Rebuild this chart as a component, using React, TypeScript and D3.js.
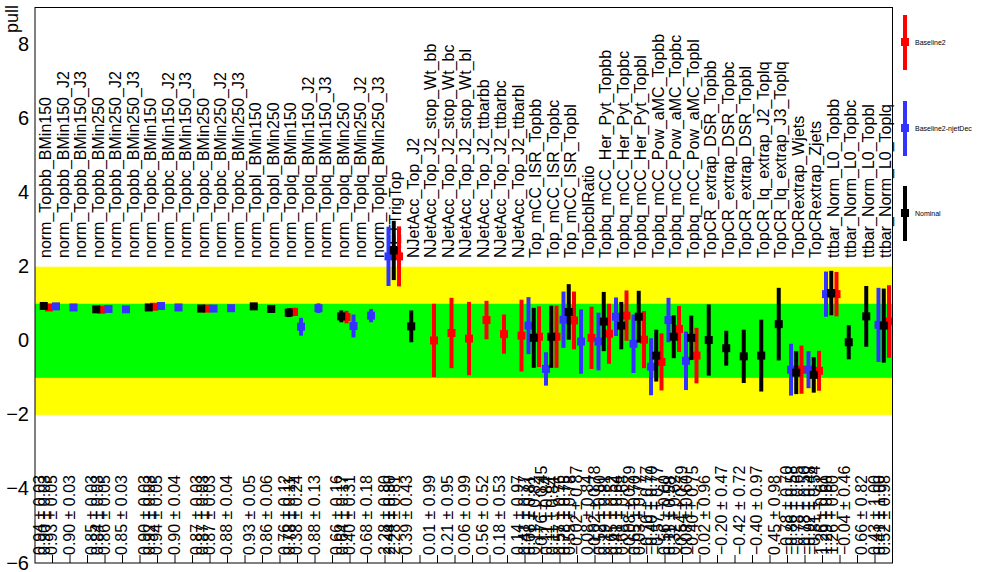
import React, { useEffect, useRef } from "react";
import * as d3 from "d3";

const parameterLabels = [
  "norm_Topbb_BMin150", "norm_Topbb_BMin150_J2", "norm_Topbb_BMin150_J3",
  "norm_Topbb_BMin250", "norm_Topbb_BMin250_J2", "norm_Topbb_BMin250_J3",
  "norm_Topbc_BMin150", "norm_Topbc_BMin150_J2", "norm_Topbc_BMin150_J3",
  "norm_Topbc_BMin250", "norm_Topbc_BMin250_J2", "norm_Topbc_BMin250_J3",
  "norm_Topbl_BMin150", "norm_Topbl_BMin250",
  "norm_Toplq_BMin150", "norm_Toplq_BMin150_J2", "norm_Toplq_BMin150_J3",
  "norm_Toplq_BMin250", "norm_Toplq_BMin250_J2", "norm_Toplq_BMin250_J3",
  "METTrigTop",
  "NJetAcc_Top_J2", "NJetAcc_Top_J2_stop_Wt_bb", "NJetAcc_Top_J2_stop_Wt_bc",
  "NJetAcc_Top_J2_stop_Wt_bl", "NJetAcc_Top_J2_ttbarbb", "NJetAcc_Top_J2_ttbarbc",
  "NJetAcc_Top_J2_ttbarbl", "Top_mCC_ISR_Topbb", "Top_mCC_ISR_Topbc",
  "Top_mCC_ISR_Topbl", "TopbcblRatio",
  "Topbq_mCC_Her_Pyt_Topbb", "Topbq_mCC_Her_Pyt_Topbc", "Topbq_mCC_Her_Pyt_Topbl",
  "Topbq_mCC_Pow_aMC_Topbb", "Topbq_mCC_Pow_aMC_Topbc", "Topbq_mCC_Pow_aMC_Topbl",
  "TopCR_extrap_DSR_Topbb", "TopCR_extrap_DSR_Topbc", "TopCR_extrap_DSR_Topbl",
  "TopCR_lq_extrap_J2_Toplq", "TopCR_lq_extrap_J3_Toplq",
  "TopCRextrap_Wjets", "TopCRextrap_Zjets",
  "ttbar_Norm_L0_Topbb", "ttbar_Norm_L0_Topbc", "ttbar_Norm_L0_Topbl", "ttbar_Norm_L0_Toplq",
];

// Baseline2 (red)
const baselineBins = [0, 3, 6, 9, 14, 17, 20, 22, 23, 24, 25, 26, 27, 28, 29, 30, 31, 32, 33, 34, 35, 36, 37, 43, 44, 45, 48];
const baselineValues = [0.90, 0.84, 0.92, 0.87, 0.78, 0.64, 2.28, 0.01, 0.21, 0.06, 0.56, 0.18, 0.14, 0.11, 0.11, 0.55, 0.08, 0.19, 0.68, 0.03, -0.57, 0.32, -0.40, -0.78, -0.81, 1.26, 0.52];
const baselineErrors = [0.03, 0.03, 0.03, 0.03, 0.11, 0.17, 0.81, 0.99, 0.95, 0.99, 0.52, 0.53, 0.97, 0.82, 0.84, 0.78, 0.84, 0.81, 0.68, 0.77, 0.77, 0.62, 0.75, 0.65, 0.54, 0.60, 0.98];

// Baseline2-njetDec (blue)
const njetDecBins = [0, 1, 3, 4, 6, 7, 9, 10, 14, 15, 17, 18, 19, 27, 28, 29, 30, 31, 32, 33, 34, 35, 36, 42, 43, 44, 47];
const njetDecValues = [0.93, 0.90, 0.86, 0.85, 0.94, 0.90, 0.87, 0.88, 0.38, 0.88, 0.40, 0.68, 2.28, 0.41, -0.76, 0.57, -0.02, -0.02, 0.65, -0.08, -0.70, 0.56, -0.54, -0.78, -0.78, 1.26, 0.43];
const njetDecErrors = [0.05, 0.03, 0.05, 0.03, 0.05, 0.04, 0.03, 0.04, 0.24, 0.13, 0.31, 0.18, 0.80, 0.77, 0.45, 0.76, 0.87, 0.78, 0.52, 0.79, 0.77, 0.60, 0.79, 0.70, 0.50, 0.61, 1.00];

// Nominal (black)
const nominalBins = [0, 3, 6, 9, 12, 13, 14, 17, 20, 21, 28, 29, 30, 32, 33, 34, 35, 36, 37, 38, 39, 40, 41, 42, 43, 44, 45, 46, 47, 48];
const nominalValues = [0.94, 0.85, 0.90, 0.87, 0.93, 0.86, 0.76, 0.66, 2.44, 0.39, 0.08, 0.11, 0.78, 0.52, 0.41, 0.65, -0.40, 0.11, 0.08, 0.02, -0.20, -0.42, -0.40, 0.45, -0.86, -0.92, 1.29, -0.04, 0.66, 0.41];
const nominalErrors = [0.03, 0.03, 0.03, 0.03, 0.05, 0.06, 0.12, 0.16, 0.80, 0.43, 0.81, 0.84, 0.75, 0.80, 0.64, 0.70, 0.70, 0.58, 0.60, 0.96, 0.47, 0.72, 0.97, 0.98, 0.58, 0.48, 0.60, 0.46, 0.82, 1.00];

const yTicks = [-6, -4, -2, 0, 2, 4, 6, 8];
const seriesNames = ["Baseline2", "Baseline2-njetDec", "Nominal"];

const FONT = "'Liberation Sans', Arial, Helvetica, sans-serif";

export default function App() {
  const ref = useRef<SVGSVGElement>(null);

  useEffect(() => {
    const svg = d3.select(ref.current);
    svg.selectAll("*").remove();
    const W = 996, H = 572;
    const x = d3.scaleLinear().domain([0, parameterLabels.length]).range([35, 892.5]);
    const y = d3.scaleLinear().domain([-6, 9]).range([563, 7.5]);

    svg.append("rect").attr("width", W).attr("height", H).attr("fill", "#fff");

    // bands
    svg.append("rect").attr("x", x(0)).attr("width", x(49) - x(0))
      .attr("y", y(2)).attr("height", y(-2) - y(2)).attr("fill", "#ffff00");
    svg.append("rect").attr("x", x(0)).attr("width", x(49) - x(0))
      .attr("y", y(1)).attr("height", y(-1) - y(1)).attr("fill", "#00ff00");

    // parameter labels
    svg.append("g").selectAll("text").data(parameterLabels).join("text")
      .attr("transform", (_d, i) => `translate(${x(i + 0.8) + 2},${258}) rotate(-90)`)
      .attr("font-family", FONT).attr("font-size", 16).attr("fill", "#000")
      .text((d) => d);

    const series = [
      { name: seriesNames[0], color: "#ff0000", off: 0.8, bins: baselineBins, vals: baselineValues, errs: baselineErrors },
      { name: seriesNames[1], color: "#3333ff", off: 1.2, bins: njetDecBins, vals: njetDecValues, errs: njetDecErrors },
      { name: seriesNames[2], color: "#000000", off: 0.5, bins: nominalBins, vals: nominalValues, errs: nominalErrors },
    ];

    svg.append("clipPath").attr("id", "frameclip").append("rect")
      .attr("x", x(0)).attr("y", y(9)).attr("width", x(49) - x(0)).attr("height", y(-6) - y(9));

    const fmt = d3.format(".2f");
    series.forEach((s) => {
      const pts = s.bins.map((b, k) => ({ xv: b + s.off, v: s.vals[k], e: s.errs[k] }));
      const g = svg.append("g").attr("clip-path", "url(#frameclip)");
      g.selectAll("rect.err").data(pts).join("rect").attr("class", "err")
        .attr("x", (d) => x(d.xv) - 2).attr("width", 4)
        .attr("y", (d) => y(d.v + d.e)).attr("height", (d) => y(d.v - d.e) - y(d.v + d.e))
        .attr("fill", s.color);
      g.selectAll("rect.mk").data(pts).join("rect").attr("class", "mk")
        .attr("x", (d) => x(d.xv) - 4).attr("width", 8)
        .attr("y", (d) => y(d.v) - 4).attr("height", 8)
        .attr("fill", s.color);
      svg.append("g").selectAll("text").data(pts).join("text")
        .attr("transform", (d) => `translate(${x(d.xv) + 1},${555}) rotate(-90)`)
        .attr("font-family", FONT).attr("font-size", 16).attr("fill", "#000")
        .text((d) => `${fmt(d.v)} \u00b1 ${fmt(d.e)}`);
    });

    // frame
    svg.append("rect").attr("x", x(0)).attr("y", y(9)).attr("width", x(49) - x(0))
      .attr("height", y(-6) - y(9)).attr("fill", "none").attr("stroke", "#000").attr("stroke-width", 1);

    // bottom bin-edge ticks
    svg.append("g").selectAll("line").data(d3.range(1, parameterLabels.length)).join("line")
      .attr("x1", (d) => x(d)).attr("x2", (d) => x(d))
      .attr("y1", y(-6)).attr("y2", y(-6) - 8).attr("stroke", "#000");

    // y tick labels
    svg.append("g").selectAll("text").data(yTicks).join("text")
      .attr("x", 29).attr("y", (d) => y(d) + 6.5).attr("text-anchor", "end")
      .attr("font-family", FONT).attr("font-size", 20).attr("fill", "#000")
      .text((d) => (d < 0 ? `\u2212${Math.abs(d)}` : `${d}`));

    svg.append("text").attr("transform", `translate(18,5) rotate(-90)`)
      .attr("text-anchor", "end").attr("font-family", FONT).attr("font-size", 18)
      .text("pull");

    // legend
    const lg = svg.append("g");
    const legendY = [42, 128, 213];
    series.forEach((s, k) => {
      const cy = legendY[k];
      lg.append("rect").attr("x", 903).attr("width", 4).attr("y", cy - 27).attr("height", 55).attr("fill", s.color);
      lg.append("rect").attr("x", 901).attr("width", 8).attr("y", cy - 4).attr("height", 8).attr("fill", s.color);
      lg.append("text").attr("x", 915).attr("y", cy + 2.5).attr("font-family", FONT)
        .attr("font-size", 7).text(s.name);
    });
  }, []);

  return (
    <svg ref={ref} width={996} height={572}
      style={{ position: "absolute", left: 0, top: 0, display: "block" }} />
  );
}
